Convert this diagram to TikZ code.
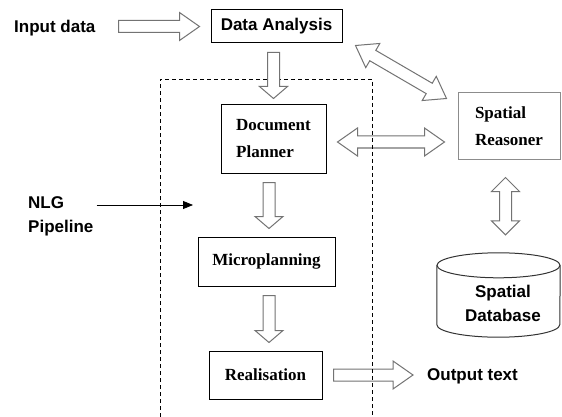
\documentclass[tikz,border=0pt]{standalone}
\usepackage{fontspec}
\setmainfont{Liberation Serif}
\setsansfont{Liberation Sans}
\usepackage{tikz}
\usetikzlibrary{calc,arrows.meta}

\newcommand{\sansbig}{\sffamily\bfseries\fontsize{17}{24}\selectfont}
\newcommand{\serifbig}{\rmfamily\bfseries\fontsize{17}{27}\selectfont}

\begin{document}
\begin{tikzpicture}[x=1pt, y=-1pt,
    box/.style={draw, rectangle, line width=1pt, font=\serifbig, align=left, inner sep=0pt},
    txt/.style={font=\sansbig, align=left, inner sep=0pt},
    hollow/.style={draw=black!55, fill=white, line width=1pt, line join=miter},
    % block arrow, head length as argument
    fat/.style={hollow, to path={
        ($(\tikztostart)!6pt!90:(\tikztotarget)$)
        -- ($(\tikztotarget)!#1!(\tikztostart)!6pt!90:(\tikztotarget)$)
        -- ($(\tikztotarget)!#1!(\tikztostart)!14pt!90:(\tikztotarget)$)
        -- (\tikztotarget)
        -- ($(\tikztotarget)!#1!(\tikztostart)!14pt!-90:(\tikztotarget)$)
        -- ($(\tikztotarget)!#1!(\tikztostart)!6pt!-90:(\tikztotarget)$)
        -- ($(\tikztostart)!6pt!-90:(\tikztotarget)$) -- cycle}},
    fat/.default=20pt,
    % same with a head at both ends
    fatboth/.style={hollow, to path={
        (\tikztostart)
        -- ($(\tikztostart)!#1!(\tikztotarget)!14pt!90:(\tikztotarget)$)
        -- ($(\tikztostart)!#1!(\tikztotarget)!6pt!90:(\tikztotarget)$)
        -- ($(\tikztotarget)!#1!(\tikztostart)!6pt!90:(\tikztotarget)$)
        -- ($(\tikztotarget)!#1!(\tikztostart)!14pt!90:(\tikztotarget)$)
        -- (\tikztotarget)
        -- ($(\tikztotarget)!#1!(\tikztostart)!14pt!-90:(\tikztotarget)$)
        -- ($(\tikztotarget)!#1!(\tikztostart)!6pt!-90:(\tikztotarget)$)
        -- ($(\tikztostart)!#1!(\tikztotarget)!6pt!-90:(\tikztotarget)$)
        -- ($(\tikztostart)!#1!(\tikztotarget)!14pt!-90:(\tikztotarget)$)
        -- cycle}},
    fatboth/.default=20pt,
    pipeline/.style={dash pattern=on 4pt off 3pt, line width=0.9pt}]

    \useasboundingbox (0,0) rectangle (562,417);

    \node[txt, anchor=base west] (inp) at (14,33) {Input data};
    \node[box, font=\sansbig, minimum width=131pt, minimum height=33pt] (da) at (276.5,26.5) {Data Analysis};
    \node[box, minimum width=105pt, minimum height=68pt] (dp) at (273.5,139) {Document\\Planner};
    \node[box, draw=black!45, minimum width=102pt, minimum height=66pt] (sr) at (509,126) {Spatial\\Reasoner};
    \node[box, minimum width=137pt, minimum height=49pt] (mp) at (266.5,261.5) {Microplanning};
    \node[box, minimum width=113pt, minimum height=48pt] (rl) at (265.5,375) {Realisation};
    \node[txt, anchor=west] (nlg) at (28,216) {NLG\\Pipeline};
    \node[txt, anchor=base west] (out) at (427,380) {Output text};
    \coordinate (pipe) at (193,205);

    % database drum
    \node[minimum width=123pt, minimum height=84pt, inner sep=0pt] (db) at (498.5,295) {};
    \draw[line width=1pt, black!80] ([yshift=-12.5pt]db.north west) -- ([yshift=12.5pt]db.south west)
        arc[start angle=180, end angle=360, x radius=61.5pt, y radius=12.5pt]
        -- ([yshift=-12.5pt]db.north east);
    \draw[line width=1pt, black!80] ([yshift=-12.5pt]db.north) ellipse[x radius=61.5pt, y radius=12.5pt];
    \node[txt, align=center] (dbname) at (503,303) {Spatial\\Database};

    \draw[fat] ([xshift=23pt]inp.east |- da.west) to ([xshift=-11pt]da.west);
    \draw[fatboth] ([xshift=13pt,yshift=-2pt]da.south east) to ([xshift=-11pt,yshift=-6pt]sr.north west);
    \draw[fatboth] ([xshift=11pt,yshift=-3pt]dp.east) to ([xshift=-13pt,yshift=-3pt]sr.west |- dp.east);
    \draw[fatboth=14pt] ([xshift=-3.5pt,yshift=-18pt]sr.south) to ([xshift=-3.5pt,yshift=18pt]sr.south |- db.north);
    \draw[fat=12pt] ([xshift=-4.5pt,yshift=-9pt]dp.south) to ([xshift=-4.5pt,yshift=8pt]dp.south |- mp.north);
    \draw[fat=12pt] ([xshift=2.5pt,yshift=-9pt]mp.south) to ([xshift=2.5pt,yshift=8pt]mp.south |- rl.north);
    \draw[fat] ([xshift=11pt]rl.east) to ([xshift=-14pt]out.west |- rl.east);

    \draw[pipeline] (160,417) |- (372,79) -- (372,417);
    \draw[fat=12pt] ([yshift=-9pt]dp.north |- da.south) to ([yshift=6pt]dp.north);

    \draw[line width=0.8pt, -{Triangle[length=10pt,width=8pt]}] ([xshift=3pt]pipe -| nlg.east) -- (pipe);
\end{tikzpicture}
\end{document}
